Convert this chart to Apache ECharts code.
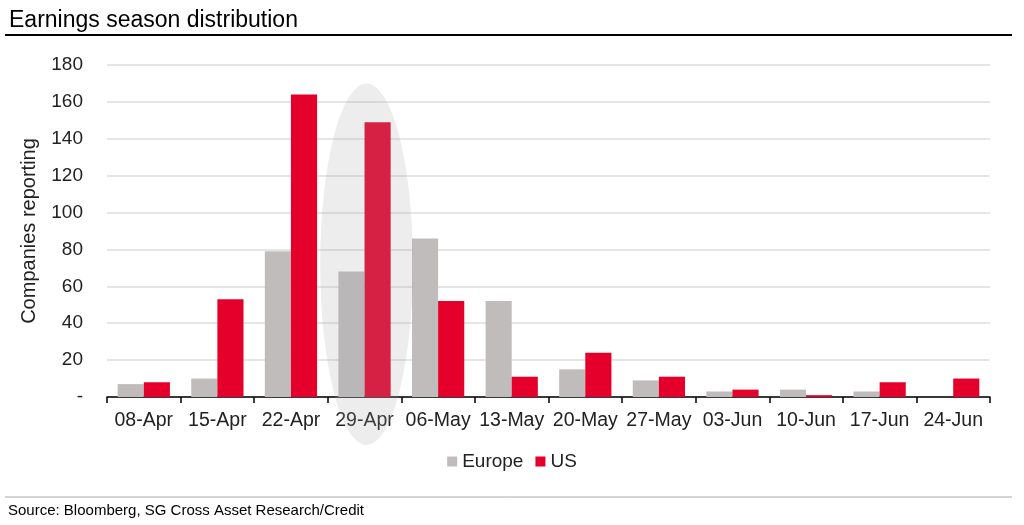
<!DOCTYPE html>
<html style="height: 100%;width:100%">
<head>
    <meta charset="utf-8">
</head>
<body style="height: 100%; width:100%; margin:0">
<div id="chart-panel" style="height: 525px;width: 1024px"></div>
<script type="text/javascript" src="https://cdn.jsdelivr.net/npm/echarts@6/dist/echarts.min.js"></script>
<script type="text/javascript">
// weekly buckets
var weeks = ['08-Apr', '15-Apr', '22-Apr', '29-Apr', '06-May', '13-May', '20-May', '27-May', '03-Jun', '10-Jun', '17-Jun', '24-Jun'];
var europe = [7, 10, 79, 68, 86, 52, 15, 9, 3, 4, 3, 0];
var us = [8, 53, 164, 149, 52, 11, 24, 11, 4, 1, 8, 10];
var highlightWeek = '29-Apr';

var font = 'Liberation Sans, Arial, sans-serif';
var dom = document.getElementById('chart-panel');
var myChart = echarts.init(dom);

var option = {
    backgroundColor: '#fff',
    animation: false,
    textStyle: { fontFamily: font },
    title: {
        text: 'Earnings season distribution',
        left: 4,
        top: 4,
        textStyle: { fontFamily: font, fontSize: 23, fontWeight: 'normal', color: '#000' }
    },
    legend: {
        top: 447,
        left: 'center',
        itemWidth: 10,
        itemHeight: 10,
        itemGap: 12,
        icon: 'rect',
        textStyle: { fontFamily: font, fontSize: 19, color: '#222' },
        data: ['Europe', 'US']
    },
    grid: {
        left: 107,
        right: 34,
        top: 65,
        bottom: 128
    },
    xAxis: {
        type: 'category',
        data: weeks,
        axisLine: { lineStyle: { color: '#000', width: 1.5 } },
        axisTick: { show: true, length: 6, lineStyle: { color: '#000', width: 1.5 } },
        axisLabel: { fontFamily: font, fontSize: 19.5, color: '#222', margin: 14, interval: 0 }
    },
    yAxis: {
        type: 'value',
        min: 0,
        max: 180,
        interval: 20,
        name: 'Companies reporting',
        nameLocation: 'middle',
        nameGap: 68,
        nameTextStyle: { fontFamily: font, fontSize: 20, color: '#222' },
        axisLine: { show: false },
        axisTick: { show: false },
        splitLine: { lineStyle: { color: '#dcdcdc', width: 1.5 } },
        axisLabel: {
            fontFamily: font,
            fontSize: 19,
            color: '#222',
            margin: 24,
            formatter: function (v) { return v === 0 ? '-' : v; }
        }
    },
    series: [
        {
            name: 'Europe',
            type: 'bar',
            data: europe,
            barGap: '0%',
            barCategoryGap: '29%',
            itemStyle: { color: '#c0bcbc' }
        },
        {
            name: 'US',
            type: 'bar',
            data: us,
            itemStyle: { color: '#e4002b' }
        }
    ]
};
myChart.setOption(option);

// grey ellipse highlighting the peak week, placed from the axis scales
var hlCenter = myChart.convertToPixel({ gridIndex: 0 }, [highlightWeek, 72]);
var hlTop = myChart.convertToPixel({ gridIndex: 0 }, [highlightWeek, 170]);
var hlNext = myChart.convertToPixel({ gridIndex: 0 }, [weeks[weeks.indexOf(highlightWeek) + 1], 72]);
var bandW = hlNext[0] - hlCenter[0];
var ry = hlCenter[1] - hlTop[1];
var rx = bandW * 0.63;

myChart.setOption({
    graphic: [
        {
            type: 'circle',
            z: 100,
            silent: true,
            x: hlCenter[0] + 2,
            y: hlCenter[1],
            scaleX: rx / ry,
            shape: { cx: 0, cy: 0, r: ry },
            style: { fill: 'rgba(165,165,170,0.2)' }
        },
        {
            type: 'line',
            shape: { x1: 5, y1: 35, x2: 1012, y2: 35 },
            style: { stroke: '#000', lineWidth: 2 }
        },
        {
            type: 'line',
            shape: { x1: 5, y1: 497, x2: 1012, y2: 497 },
            style: { stroke: '#aaa', lineWidth: 1 }
        },
        {
            type: 'text',
            left: 8,
            top: 503,
            style: { text: 'Source: Bloomberg, SG Cross Asset Research/Credit', font: '15px ' + font, fill: '#000' }
        }
    ]
});
</script>
</body>
</html>
